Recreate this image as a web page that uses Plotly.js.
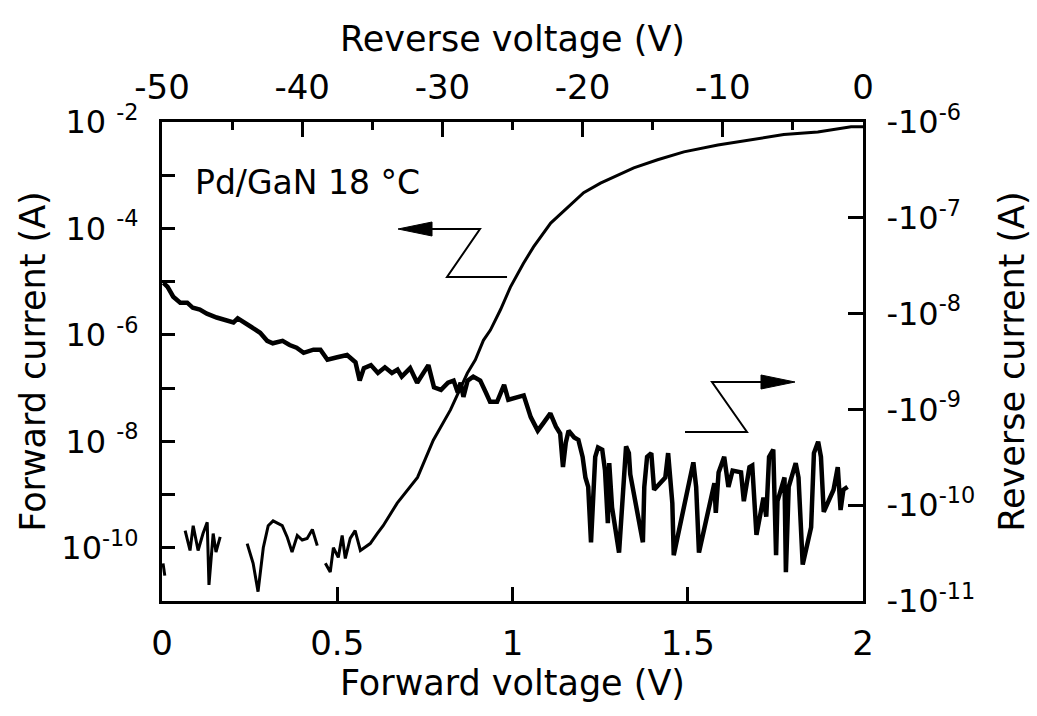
<!DOCTYPE html>
<html>
<head>
<meta charset="utf-8">
<script src="https://cdn.plot.ly/plotly-3.0.1.min.js"></script>
<style>html,body{margin:0;padding:0;background:#fff;}#chart{width:1037px;height:716px;}</style>
</head>
<body>
<div id="chart"></div>
<script>
// Forward sweep (bottom axis / left axis). null = gap in the trace.
const fwdVoltage = [0.003, 0.008, null,
  0.066, 0.080, 0.089, 0.103, 0.117, 0.129, 0.134, 0.146, 0.154, 0.166, null,
  0.243, 0.260, 0.274, 0.289, 0.303, 0.317, 0.343, 0.357, 0.371, 0.386, 0.400, 0.414, 0.429, 0.443, null,
  0.466, 0.480, 0.489, 0.503, 0.514, 0.523, 0.537, 0.551, 0.566, 0.594, 0.614, 0.631, 0.671, 0.729,
  0.774, 0.823, 0.871, 0.894, 0.917, 0.937, 0.966, 0.994, 1.031, 1.060, 1.109, 1.157, 1.203, 1.251,
  1.300, 1.346, 1.414, 1.489, 1.586, 1.680, 1.774, 1.871, 1.966, 2.000];
const fwdCurrent = [5.1e-11, 3.0e-11, null,
  2.1e-10, 8.9e-11, 2.6e-10, 8.9e-11, 1.85e-10, 3.0e-10, 2.0e-11, 1.85e-10, 8.3e-11, 1.6e-10, null,
  1.2e-10, 5.1e-11, 1.5e-11, 1.0e-10, 2.6e-10, 3.2e-10, 2.6e-10, 1.6e-10, 8.3e-11, 1.7e-10, 1.4e-10, 1.5e-10, 2.2e-10, 1.1e-10, null,
  5.1e-11, 3.5e-11, 1.0e-10, 6.6e-11, 1.7e-10, 6.3e-11, 1.5e-10, 2.1e-10, 8.9e-11, 1.2e-10, 1.85e-10, 2.6e-10, 6.9e-10, 2.1e-9,
  1.05e-8, 3.9e-8, 1.9e-7, 3.4e-7, 7.9e-7, 1.23e-6, 3.0e-6, 7.9e-6, 2.2e-5, 4.5e-5, 1.26e-4, 2.5e-4, 4.7e-4, 7.1e-4,
  1.0e-3, 1.38e-3, 1.95e-3, 2.75e-3, 3.7e-3, 4.6e-3, 5.8e-3, 6.5e-3, 8.1e-3, 8.1e-3];

// Reverse sweep (top axis / right axis), current magnitude in A.
const revVoltage = [-49.9, -49.6, -49.2, -48.7, -48.2, -47.8, -47.3, -46.8, -46.1, -45.4, -44.9, -44.6, -44.1, -43.6,
  -43.0, -42.5, -42.1, -41.4, -40.9, -40.4, -39.9, -39.2, -38.7, -38.2, -37.5, -36.8, -36.2, -35.9, -35.6,
  -35.1, -34.6, -34.1, -33.6, -33.2, -32.9, -32.3, -31.8, -31.4, -31.0, -30.6, -30.1, -29.6, -29.2, -28.9,
  -28.7, -28.5, -28.2, -27.8, -27.3, -26.9, -26.6, -26.1, -25.6, -25.3, -24.6, -24.2, -23.7, -23.2, -22.8,
  -22.3, -21.9, -21.6, -21.4, -21.2, -21.0, -20.6, -20.3, -20.0, -19.8, -19.6, -19.4, -19.2, -19.1, -18.9,
  -18.6, -18.4, -18.2, -18.1, -17.9, -17.4, -17.1, -16.9, -16.7, -16.6, -15.7, -15.6, -15.4, -15.1, -14.9,
  -14.3, -14.1, -13.9, -13.6, -13.5, -12.4, -12.1, -11.9, -11.7, -10.6, -10.5, -10.3, -9.9, -9.6, -9.3,
  -8.7, -8.5, -8.1, -7.9, -7.6, -7.1, -6.9, -6.7, -6.4, -6.2, -6.1, -5.6, -5.5, -5.3, -4.8, -4.6, -4.3,
  -3.7, -3.5, -3.2, -3.0, -2.8, -2.1, -1.8, -1.6, -1.4, -1.1];
const revCurrent = [2.1e-8, 1.9e-8, 1.5e-8, 1.3e-8, 1.3e-8, 1.15e-8, 1.1e-8, 1.0e-8, 9.1e-9, 8.5e-9, 8.1e-9, 8.9e-9, 8.1e-9, 7.2e-9,
  6.3e-9, 5.2e-9, 4.9e-9, 5.2e-9, 4.7e-9, 4.4e-9, 3.9e-9, 4.2e-9, 4.2e-9, 3.3e-9, 3.5e-9, 3.7e-9, 3.1e-9, 2.0e-9, 2.7e-9,
  2.9e-9, 2.4e-9, 2.75e-9, 2.4e-9, 2.6e-9, 2.2e-9, 2.7e-9, 1.9e-9, 2.4e-9, 2.9e-9, 1.7e-9, 1.6e-9, 1.9e-9, 2.0e-9, 1.5e-9,
  1.9e-9, 1.35e-9, 2.0e-9, 2.2e-9, 2.0e-9, 1.5e-9, 1.2e-9, 1.2e-9, 1.8e-9, 1.26e-9, 1.35e-9, 1.4e-9, 8.3e-10, 6.0e-10, 7.2e-10,
  9.1e-10, 6.6e-10, 5.6e-10, 2.5e-10, 4.5e-10, 6.0e-10, 5.1e-10, 4.8e-10, 3.2e-10, 1.95e-10, 1.55e-10, 4.1e-11, 1.55e-10, 3.2e-10, 4.0e-10,
  3.8e-10, 2.3e-10, 6.5e-11, 2.75e-10, 9.5e-11, 3.2e-11, 1.95e-10, 4.1e-10, 3.5e-10, 2.1e-10, 4.1e-11, 1.55e-10, 3.2e-10, 3.5e-10, 1.45e-10,
  1.8e-10, 1.95e-10, 3.5e-10, 1.05e-10, 3.0e-11, 1.7e-10, 2.8e-10, 1.55e-10, 3.2e-11, 1.7e-10, 8.3e-11, 2.2e-10, 3.2e-10, 1.55e-10, 2.3e-10,
  2.2e-10, 1.1e-10, 2.5e-10, 2.6e-10, 4.9e-11, 1.2e-10, 7.6e-11, 3.2e-10, 3.8e-10, 3.0e-11, 1.1e-10, 1.95e-10, 2.0e-11, 1.55e-10, 2.75e-10, 1.95e-10, 2.4e-11,
  5.9e-11, 3.5e-10, 4.6e-10, 3.2e-10, 8.5e-11, 1.45e-10, 2.5e-10, 8.9e-11, 1.45e-10, 1.55e-10];

// Tick values and labels
const fwdVoltTicks = [0, 0.5, 1, 1.5, 2];
const fwdVoltLabels = ['0', '0.5', '1', '1.5', '2'];
const revVoltTicks = [-50, -40, -30, -20, -10, 0];
const revVoltLabels = ['-50', '-40', '-30', '-20', '-10', '0'];
const revVoltMinor = [-45, -35, -25, -15, -5];
const fwdCurTicks = [1e-10, 1e-8, 1e-6, 1e-4, 1e-2];
const fwdCurLabels = ['10<sup>-10</sup>', '10 <sup>-8</sup>', '10 <sup>-6</sup>', '10 <sup>-4</sup>', '10 <sup>-2</sup>'];
const fwdCurMinor = [1e-11, 1e-9, 1e-7, 1e-5, 1e-3];
const revCurTicks = [1e-11, 1e-10, 1e-9, 1e-8, 1e-7, 1e-6];
const revCurLabels = ['-10<sup>-11</sup>', '-10<sup>-10</sup>', '-10<sup>-9</sup>', '-10<sup>-8</sup>', '-10<sup>-7</sup>', '-10<sup>-6</sup>'];

const TXT = 'DejaVu Sans, Liberation Sans, sans-serif';

const traces = [
  {x: fwdVoltage, y: fwdCurrent, xaxis: 'x', yaxis: 'y', type: 'scatter', mode: 'lines',
   connectgaps: false, line: {color: '#000', width: 3}, hoverinfo: 'skip'},
  {x: revVoltage, y: revCurrent, xaxis: 'x2', yaxis: 'y2', type: 'scatter', mode: 'lines',
   line: {color: '#000', width: 4.5}, hoverinfo: 'skip'}
];

function px(x) { return (x - 162) / 701; }
function py(y) { return (601 - y) / 479; }
function pathOf(pts) { return pts.map((p, i) => (i ? 'L' : 'M') + px(p[0]).toFixed(4) + ',' + py(p[1]).toFixed(4)).join(' '); }

const shapes = [
  {type: 'path', xref: 'paper', yref: 'paper', path: pathOf([[507,277],[447,277],[480,229],[430,229]]), line: {color: '#000', width: 2}},
  {type: 'path', xref: 'paper', yref: 'paper', path: pathOf([[398,229],[432,222],[432,236]]) + ' Z', line: {color: '#000', width: 1}, fillcolor: '#000'},
  {type: 'path', xref: 'paper', yref: 'paper', path: pathOf([[685,432],[747,432],[712,382],[763,382]]), line: {color: '#000', width: 2}},
  {type: 'path', xref: 'paper', yref: 'paper', path: pathOf([[795,382],[761,375],[761,389]]) + ' Z', line: {color: '#000', width: 1}, fillcolor: '#000'}
];

const tickStyle = {ticks: 'inside', tickwidth: 3, tickcolor: '#000'};

const layout = {
  width: 1037, height: 716,
  margin: {l: 162, r: 174, t: 122, b: 115},
  paper_bgcolor: '#fff', plot_bgcolor: '#fff',
  showlegend: false,
  font: {family: TXT, color: '#000', size: 30},
  xaxis: Object.assign({
    range: [0, 2], tickvals: fwdVoltTicks, ticktext: fwdVoltLabels, ticklen: 14,
    showline: true, linewidth: 3, linecolor: '#000', showgrid: false, zeroline: false,
    tickfont: {family: TXT, size: 34}, ticklabelstandoff: 10,
    title: {text: 'Forward voltage (V)', font: {family: TXT, size: 35}, standoff: 8}
  }, tickStyle),
  xaxis2: Object.assign({
    overlaying: 'x', side: 'top', anchor: 'y',
    range: [-50, 0], tickvals: revVoltTicks, ticktext: revVoltLabels, ticklen: 15,
    minor: {tickvals: revVoltMinor, ticks: 'inside', ticklen: 8, tickwidth: 3, tickcolor: '#000', showgrid: false},
    showline: true, linewidth: 3, linecolor: '#000', showgrid: false, zeroline: false,
    tickfont: {family: TXT, size: 34}, ticklabelstandoff: 6,
    title: {text: 'Reverse voltage (V)', font: {family: TXT, size: 35}, standoff: 6}
  }, tickStyle),
  yaxis: Object.assign({
    type: 'log', range: [-11, -2], tickvals: fwdCurTicks, ticktext: fwdCurLabels, ticklen: 13,
    minor: {tickvals: fwdCurMinor, ticks: 'inside', ticklen: 13, tickwidth: 3, tickcolor: '#000', showgrid: false},
    showline: true, linewidth: 3, linecolor: '#000', showgrid: false, zeroline: false,
    tickfont: {family: TXT, size: 32}, ticklabelstandoff: 14,
    title: {text: 'Forward current (A)', font: {family: TXT, size: 35}, standoff: 6}
  }, tickStyle),
  yaxis2: Object.assign({
    type: 'log', overlaying: 'y', side: 'right', anchor: 'x',
    range: [-11, -6], tickvals: revCurTicks, ticktext: revCurLabels, ticklen: 15,
    showline: true, linewidth: 3, linecolor: '#000', showgrid: false, zeroline: false,
    tickfont: {family: TXT, size: 32}, ticklabelstandoff: 14,
    title: {text: 'Reverse current (A)', font: {family: TXT, size: 35}, standoff: 26}
  }, tickStyle),
  shapes: shapes,
  annotations: [
    {text: 'Pd/GaN 18 °C', xref: 'paper', yref: 'paper', x: px(193), y: py(182),
     xanchor: 'left', yanchor: 'middle', showarrow: false, font: {family: TXT, size: 33, color: '#000'}}
  ]
};

Plotly.newPlot('chart', traces, layout, {displayModeBar: false});
</script>
</body>
</html>
